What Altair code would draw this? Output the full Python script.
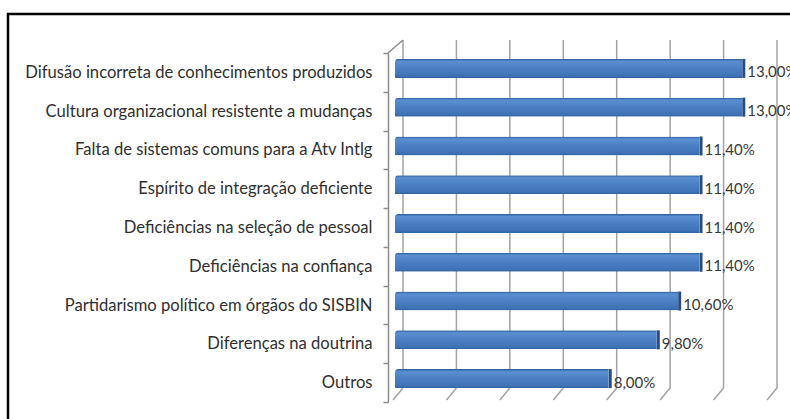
import altair as alt
import pandas as pd

categories = [
    "Difusão incorreta de conhecimentos produzidos",
    "Cultura organizacional resistente a mudanças",
    "Falta de sistemas comuns para a Atv Intlg",
    "Espírito de integração deficiente",
    "Deficiências na seleção de pessoal",
    "Deficiências na confiança",
    "Partidarismo político em órgãos do SISBIN",
    "Diferenças na doutrina",
    "Outros",
]
values = [13.0, 13.0, 11.4, 11.4, 11.4, 11.4, 10.6, 9.8, 8.0]
grid_ticks = [0, 2, 4, 6, 8, 10, 12, 14]

df = pd.DataFrame({
    "cat": categories,
    "value": values,
    "label": [f"{v:.2f}".replace(".", ",") + "%" for v in values],
})
gdf = pd.DataFrame({"g": grid_ticks})
one = pd.DataFrame({"g": [0]})

xs = alt.Scale(domain=[0, 14], nice=False, zero=True)
ys = alt.Scale(domain=categories, paddingInner=0, paddingOuter=0)

grid_col = "#a3a3a3"

grid = alt.Chart(gdf).mark_rule(color=grid_col, strokeWidth=1.5, xOffset=8).encode(
    x=alt.X("g:Q", scale=xs, axis=None),
    y=alt.value(-13),
    y2=alt.value(335),
)
floor = alt.Chart(gdf).mark_rule(color=grid_col, strokeWidth=1.5, xOffset=8, x2Offset=-2).encode(
    x=alt.X("g:Q", scale=xs, axis=None),
    x2="g:Q",
    y=alt.value(335),
    y2=alt.value(347),
)
wall = alt.Chart(one).mark_rule(color="#8c8c8c", strokeWidth=1.5, xOffset=-7, x2Offset=8).encode(
    x=alt.X("g:Q", scale=xs, axis=None),
    x2="g:Q",
    y=alt.value(0),
    y2=alt.value(-13),
)
border_h = alt.Chart(one).mark_rule(color="black", strokeWidth=2.5).encode(
    x=alt.value(-388), x2=alt.value(420), y=alt.value(-39)
)
border_v = alt.Chart(one).mark_rule(color="black", strokeWidth=2.5).encode(
    x=alt.value(-387), y=alt.value(-40), y2=alt.value(400)
)

grad = alt.LinearGradient(
    gradient="linear", x1=0, y1=0, x2=0, y2=1,
    stops=[
        alt.GradientStop(offset=0, color="#2d5b98"),
        alt.GradientStop(offset=0.13, color="#5a8fd1"),
        alt.GradientStop(offset=0.5, color="#4a7fc3"),
        alt.GradientStop(offset=0.88, color="#3f73b6"),
        alt.GradientStop(offset=1, color="#30609f"),
    ],
)

yenc = alt.Y(
    "cat:N", sort=categories, scale=ys,
    axis=alt.Axis(
        title=None, offset=7, tickBand="extent", tickSize=5,
        domainColor="#8c8c8c", domainWidth=1.5, tickColor="#8c8c8c", tickWidth=1.5,
        labelPadding=11, labelFont="Lato", labelFontSize=16.6, labelColor="#303030",
        labelLimit=500, grid=False,
    ),
)

bars = alt.Chart(df).mark_bar(size=19, yOffset=-4, color=grad, cornerRadiusTopLeft=3, cornerRadiusBottomLeft=1).encode(
    x=alt.X("value:Q", scale=xs, axis=None),
    y=yenc,
)
caps = alt.Chart(df).mark_bar(size=19, yOffset=-4, color="#244c86", x2Offset=3).encode(
    x=alt.X("value:Q", scale=xs, axis=None),
    x2="value:Q",
    y=alt.Y("cat:N", sort=categories, scale=ys),
)
text = alt.Chart(df).mark_text(
    align="left", baseline="middle", dx=5, font="Lato", fontSize=15, color="#383838"
).encode(
    x=alt.X("value:Q", scale=xs, axis=None),
    y=alt.Y("cat:N", sort=categories, scale=ys),
    text="label:N",
)

chart = alt.layer(grid, floor, wall, border_h, border_v, bars, caps, text).properties(
    width=374,
    height=349,
    padding={"left": 395, "top": 53, "right": 21, "bottom": 17},
    autosize=alt.AutoSizeParams(type="none"),
    background="white",
).configure_view(stroke="transparent")

chart.save("out.html", embed_options={"renderer": "svg", "actions": False})
